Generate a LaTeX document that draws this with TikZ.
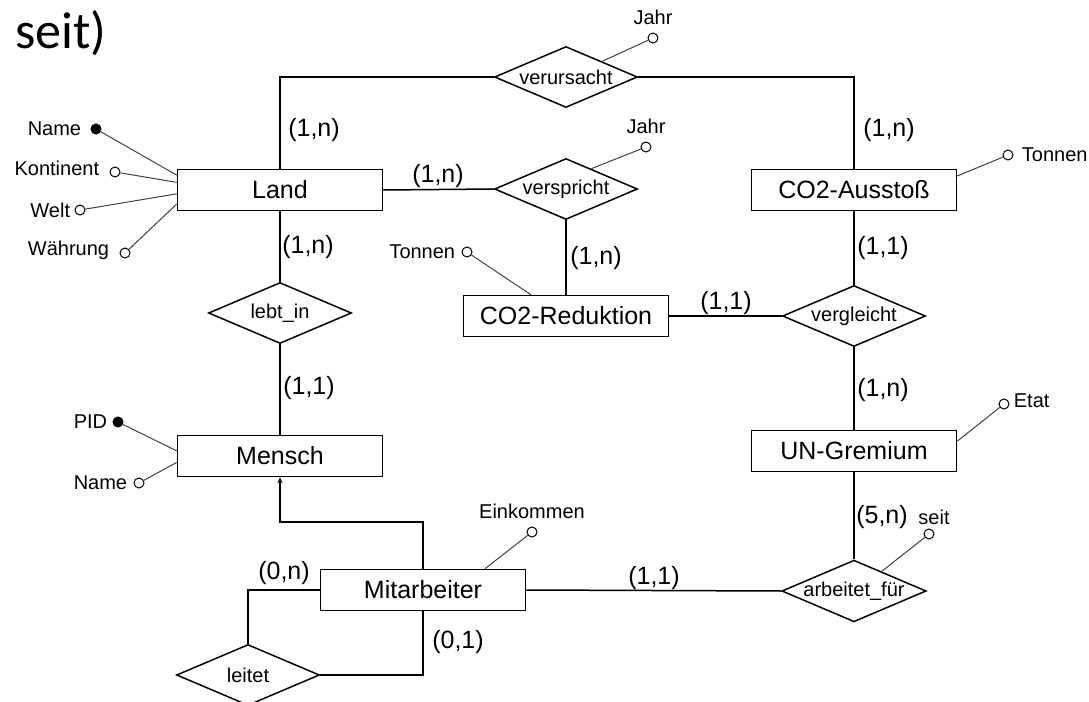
\documentclass[tikz,border=0pt]{standalone}
\usepackage{fontspec}
\setmainfont{Liberation Sans}
\newfontfamily\slidefont{Carlito}
\usetikzlibrary{arrows.meta,calc,positioning,shapes.geometric}

\begin{document}
\begin{tikzpicture}[x=0.5pt, y=-0.5pt, >=Stealth,
    entity/.style={draw, line width=0.75pt, minimum width=102.5pt, minimum height=20.5pt, inner sep=0pt, font=\fontsize{12.5}{14}\selectfont},
    relation/.style={draw, diamond, aspect=2.34, line width=0.75pt, minimum width=71.5pt, minimum height=30.5pt, inner sep=0pt, font=\fontsize{10}{12}\selectfont},
    attr/.style={draw, circle, fill=white, minimum size=5pt, inner sep=0pt, line width=0.5pt},
    key/.style={attr, fill=black},
    attrname/.style={inner sep=0pt, font=\fontsize{10}{12}\selectfont},
    card/.style={inner sep=0pt, font=\fontsize{12.5}{14}\selectfont},
    link/.style={line width=0.75pt},
    attrlink/.style={line width=0.5pt, black!75}]
    \useasboundingbox (0,0) rectangle (1089,702);

    \node[anchor=base west, inner sep=0pt, font=\slidefont\fontsize{26}{30}\selectfont] (heading) at (15,48) {seit)};

    % entities
    \node[entity] (land) at (280,190) {Land};
    \node[entity] (ausstoss) at (854,190) {CO2-Ausstoß};
    \node[entity] (reduktion) at (566,316) {CO2-Reduktion};
    \node[entity] (mensch) at (280,456) {Mensch};
    \node[entity] (mitarbeiter) at (423,590) {Mitarbeiter};
    \node[entity] (gremium) at (854,451) {UN-Gremium};

    % relationships
    \node[relation] (verursacht) at (566,77) {verursacht};
    \node[relation] (verspricht) at (566,189) {verspricht};
    \node[relation] (vergleicht) at (854,316) {vergleicht};
    \node[relation] (lebtin) at (280,313) {lebt\_in};
    \node[relation] (leitet) at (248,675) {leitet};
    \node[relation] (arbeitet) at (854,591) {arbeitet\_für};

    \draw[link] (land.north) |- (verursacht.west);
    \draw[link] (verursacht.east) -| (ausstoss.north);
    \draw[link] (land.east) -- (verspricht.west);
    \draw[link] (verspricht.south) -- (reduktion.north);
    \draw[link] (reduktion.east) -- (vergleicht.west);
    \draw[link] (ausstoss.south) -- (vergleicht.north);
    \draw[link] (vergleicht.south) -- (gremium.north);
    \draw[link] (gremium.south) -- (arbeitet.north);
    \draw[link] (mitarbeiter.east) -- (arbeitet.west);
    \draw[link] (land.south) -- (lebtin.north);
    \draw[link] (lebtin.south) -- (mensch.north);
    \draw[link] (leitet.north) |- (mitarbeiter.west);
    \draw[link] (mitarbeiter.south) |- (leitet.east);
    \draw[link, -{Stealth[length=3pt,width=2.5pt]}] (mitarbeiter.north) -- ++(0,-47) -| (mensch.south);

    % cardinalities
    \node[card] (cLandTop) at (314,130) {(1,n)};
    \node[card] (cLandBot) at (308,247) {(1,n)};
    \node[card] (cLandVer) at (438,176) {(1,n)};
    \node[card] (cVerRed) at (596,258) {(1,n)};
    \node[card] (cAusTop) at (889,130) {(1,n)};
    \node[card] (cAusBot) at (883,248) {(1,1)};
    \node[card] (cRedVgl) at (726,303) {(1,1)};
    \node[card] (cMensch) at (309,388) {(1,1)};
    \node[card] (cGremTop) at (883,390) {(1,n)};
    \node[card] (cGremBot) at (882,517) {(5,n)};
    \node[card] (cMitArb) at (654,578) {(1,1)};
    \node[card] (cLeitetA) at (284,573) {(0,n)};
    \node[card] (cLeitetB) at (458,642) {(0,1)};

    % attributes
    \node[key] (landName) at (96,129) {};
    \node[attrname, left=4.5pt of landName] (landNameT) {Name};
    \node[attr] (kontinent) at (115,172) {};
    \node[attrname, left=5pt of kontinent, yshift=2pt] (kontinentT) {Kontinent};
    \node[attr] (welt) at (80,210) {};
    \node[attrname, left=2pt of welt] (weltT) {Welt};
    \node[attr] (waehrung) at (125,253) {};
    \node[attrname, left=5pt of waehrung, yshift=1.5pt] (waehrungT) {Währung};
    \draw[attrlink] (landName) -- ($(land.north west)!0.15!(land.south west)$);
    \draw[attrlink] (kontinent) -- ($(land.north west)!0.32!(land.south west)$);
    \draw[attrlink] (welt) -- ($(land.north west)!0.59!(land.south west)$);
    \draw[attrlink] (waehrung) -- ($(land.north west)!0.83!(land.south west)$);

    \node[attr] (jahrA) at (653,38) {};
    \node[attrname, above=3.5pt of jahrA] (jahrAT) {Jahr};
    \draw[attrlink] (jahrA) -- ($(verursacht.north)!0.5!(verursacht.east)$);
    \node[attr] (jahrB) at (646,147) {};
    \node[attrname, above=3.5pt of jahrB] (jahrBT) {Jahr};
    \draw[attrlink] (jahrB) -- ($(verspricht.north)!0.35!(verspricht.east)$);

    \node[attr] (tonnenA) at (1008,155) {};
    \node[attrname, right=4pt of tonnenA] (tonnenAT) {Tonnen};
    \draw[attrlink] (tonnenA) -- ($(ausstoss.north east)!0.17!(ausstoss.south east)$);
    \node[attr] (tonnenB) at (467,252) {};
    \node[attrname, left=3pt of tonnenB] (tonnenBT) {Tonnen};
    \draw[attrlink] (tonnenB) -- ($(reduktion.north west)!0.33!(reduktion.north east)$);

    \node[attr] (etat) at (1004,404) {};
    \node[attrname, right=2pt of etat, yshift=1.5pt] (etatT) {Etat};
    \draw[attrlink] (etat) -- ($(gremium.north east)!0.27!(gremium.south east)$);

    \node[key] (pid) at (118,422) {};
    \node[attrname, left=2.5pt of pid] (pidT) {PID};
    \draw[attrlink] (pid) -- ($(mensch.north west)!0.38!(mensch.south west)$);
    \node[attr] (menschName) at (139,483) {};
    \node[attrname, left=3pt of menschName] (menschNameT) {Name};
    \draw[attrlink] (menschName) -- ($(mensch.north west)!0.65!(mensch.south west)$);

    \node[attr] (einkommen) at (532,532) {};
    \node[attrname, above=3.5pt of einkommen] (einkommenT) {Einkommen};
    \draw[attrlink] (einkommen) -- ($(mitarbeiter.north west)!0.8!(mitarbeiter.north east)$);
    \node[attr] (seit) at (929,534) {};
    \node[attrname, above=1.5pt of seit, xshift=2.5pt] (seitT) {seit};
    \draw[attrlink] (seit) -- ($(arbeitet.north)!0.38!(arbeitet.east)$);
\end{tikzpicture}
\end{document}
